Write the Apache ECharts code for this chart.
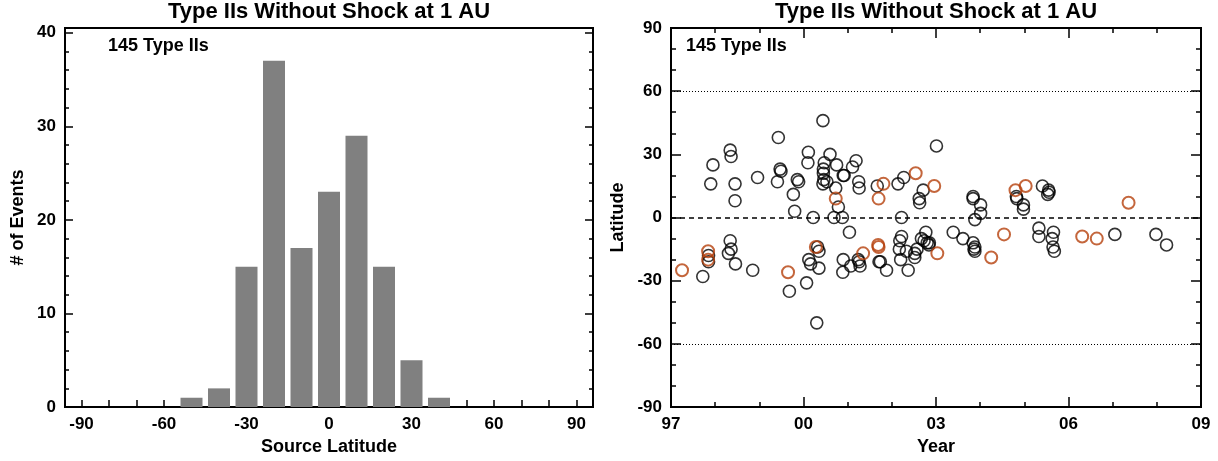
<!DOCTYPE html>
<html>
<head>
<meta charset="utf-8">
<script src="https://cdn.jsdelivr.net/npm/echarts@6/dist/echarts.min.js"></script>
<style>
  html, body { margin: 0; padding: 0; background: #fff; }
  #chart { width: 1218px; height: 461px; }
</style>
</head>
<body>
<div id="chart"></div>
<script>
// histogram of source latitude (10 deg bins)
const binCenters = [-50, -40, -30, -20, -10, 0, 10, 20, 30, 40];
const binCounts = [1, 2, 15, 37, 17, 23, 29, 15, 5, 1];

// [year, latitude] of type IIs without shock
const blackEvents = [
  [1997.72, -28], [1997.85, -18], [1997.85, -21], [1997.90, 16], [1997.95, 25],
  [1998.34, 32], [1998.36, 29], [1998.45, 16], [1998.45, 8], [1998.34, -11], [1998.36, -15], [1998.30, -17], [1998.46, -22],
  [1998.85, -25], [1998.96, 19],
  [1999.43, 38], [1999.47, 23], [1999.49, 22], [1999.41, 17], [1999.68, -35], [1999.77, 11], [1999.80, 3], [1999.86, 18], [1999.89, 17],
  [2000.11, 31], [2000.10, 26], [2000.22, 0], [2000.07, -31], [2000.12, -20], [2000.16, -22], [2000.30, -50], [2000.32, -14], [2000.35, -16], [2000.35, -24],
  [2000.44, 46], [2000.60, 30], [2000.47, 26], [2000.45, 23], [2000.45, 21], [2000.46, 18], [2000.44, 16], [2000.53, 17],
  [2000.75, 25], [2000.73, 14], [2000.79, 5], [2000.69, 0], [2000.88, 0], [2000.90, 20], [2000.92, 20],
  [2001.04, -7], [2000.90, -20], [2000.89, -26], [2001.07, -23],
  [2001.19, 27], [2001.11, 24], [2001.25, 17], [2001.26, 14], [2001.24, -20], [2001.28, -23], [2001.26, -21],
  [2001.67, 15], [2001.71, -21], [2001.74, -21], [2001.88, -25],
  [2002.14, 16], [2002.27, 19], [2002.22, 0], [2002.22, -9], [2002.18, -11], [2002.17, -15], [2002.20, -20], [2002.37, -25], [2002.33, -16],
  [2002.62, 9], [2002.63, 7], [2002.71, 13], [2002.57, -15], [2002.52, -17], [2002.52, -19], [2002.67, -10], [2002.73, -11],
  [2002.77, -7], [2002.80, -12], [2002.85, -12], [2002.84, -13],
  [2003.01, 34],
  [2003.39, -7], [2003.61, -10], [2003.84, -12], [2003.88, -14], [2003.86, -15], [2003.88, -16],
  [2003.84, 10], [2003.84, 9], [2004.01, 6], [2004.01, 2], [2003.88, -1],
  [2004.83, 9], [2004.82, 10], [2004.98, 6], [2004.98, 4],
  [2005.33, -5], [2005.33, -9], [2005.41, 15], [2005.56, 12], [2005.53, 11], [2005.55, 13],
  [2005.66, -7], [2005.63, -10], [2005.65, -14], [2005.68, -16],
  [2007.05, -8], [2007.98, -8], [2008.22, -13]
];
const orangeEvents = [
  [1997.25, -25], [1997.84, -16], [1997.84, -20], [1999.65, -26], [2000.28, -14], [2000.73, 9],
  [2001.35, -17], [2001.81, 16], [2001.70, 9], [2001.69, -13], [2001.70, -14],
  [2002.54, 21], [2002.96, 15], [2003.03, -17], [2004.25, -19], [2004.54, -8],
  [2004.80, 13], [2005.03, 15], [2006.31, -9], [2006.64, -10], [2007.36, 7]
];

// reference latitudes
const dottedLats = [60, -60];
const dashedLats = [0];

// tick labels / tick positions
const srcLatLabels = [-90, -60, -30, 0, 30, 60, 90];
const srcLatTicks = [-90, -80, -70, -60, -50, -40, -30, -20, -10, 0, 10, 20, 30, 40, 50, 60, 70, 80, 90];
const countLabels = [0, 10, 20, 30, 40];
const countMinor = [0, 2, 4, 6, 8, 10, 12, 14, 16, 18, 20, 22, 24, 26, 28, 30, 32, 34, 36, 38, 40];
const yearLabels = [1997, 2000, 2003, 2006, 2009];
const yearMinor = [1997, 1998, 1999, 2000, 2001, 2002, 2003, 2004, 2005, 2006, 2007, 2008, 2009];
const latLabels = [-90, -60, -30, 0, 30, 60, 90];
const latMinor = [-90, -80, -70, -60, -50, -40, -30, -20, -10, 0, 10, 20, 30, 40, 50, 60, 70, 80, 90];

const FONT = 'Liberation Sans, Arial, Helvetica, sans-serif';
const labelStyle = { color: '#000', fontFamily: FONT, fontWeight: 'bold', fontSize: 17, margin: 9 };
const nameStyle = { color: '#000', fontFamily: FONT, fontWeight: 'bold', fontSize: 18 };

// one value axis; several are stacked per side to get long/short ticks
function axis(gridIndex, position, min, max, ticks, tickLen, labels, extra) {
  return Object.assign({
    type: 'value',
    gridIndex,
    position,
    min,
    max,
    axisLine: { show: false, onZero: false },
    splitLine: { show: false },
    axisTick: {
      show: true,
      inside: true,
      length: tickLen,
      customValues: ticks,
      lineStyle: { color: '#000', width: 1.5 }
    },
    axisLabel: labels
      ? Object.assign({ show: true, customValues: labels }, labelStyle)
      : { show: false }
  }, extra || {});
}

const chart = echarts.init(document.getElementById('chart'));

const option = {
  animation: false,
  backgroundColor: '#fff',
  graphic: [
    { type: 'text', x: 329, y: 12, style: { text: 'Type IIs Without Shock at 1 AU', font: 'bold 22px ' + FONT, fill: '#000', textAlign: 'center', textVerticalAlign: 'middle' } },
    { type: 'text', x: 936, y: 12, style: { text: 'Type IIs Without Shock at 1 AU', font: 'bold 22px ' + FONT, fill: '#000', textAlign: 'center', textVerticalAlign: 'middle' } },
    { type: 'text', x: 108, y: 46, style: { text: '145 Type IIs', font: 'bold 18px ' + FONT, fill: '#000', textVerticalAlign: 'middle' } },
    { type: 'text', x: 686, y: 46, style: { text: '145 Type IIs', font: 'bold 18px ' + FONT, fill: '#000', textVerticalAlign: 'middle' } }
  ],
  grid: [
    { left: 65, top: 28, width: 528, height: 381, show: true, borderColor: '#000', borderWidth: 2, backgroundColor: 'transparent' },
    { left: 671, top: 28, width: 530, height: 381, show: true, borderColor: '#000', borderWidth: 2, backgroundColor: 'transparent' }
  ],
  xAxis: [
    axis(0, 'bottom', -96, 96, srcLatTicks, 7, srcLatLabels, {
      name: 'Source Latitude', nameLocation: 'middle', nameGap: 28, nameTextStyle: nameStyle
    }),
    axis(1, 'bottom', 1997, 2009, yearLabels, 10, yearLabels, {
      name: 'Year', nameLocation: 'middle', nameGap: 28, nameTextStyle: nameStyle,
      axisLabel: Object.assign({ show: true, customValues: yearLabels,
        formatter: (v) => String(Math.round(v) % 100).padStart(2, '0') }, labelStyle)
    }),
    axis(1, 'bottom', 1997, 2009, yearMinor, 5, null),
    axis(1, 'top', 1997, 2009, yearLabels, 10, null),
    axis(1, 'top', 1997, 2009, yearMinor, 5, null)
  ],
  yAxis: [
    axis(0, 'left', 0, 40.5, countLabels, 8, countLabels, {
      name: '# of Events', nameLocation: 'middle', nameGap: 38, nameTextStyle: nameStyle
    }),
    axis(0, 'left', 0, 40.5, countMinor, 4, null),
    axis(0, 'right', 0, 40.5, countLabels, 8, null),
    axis(0, 'right', 0, 40.5, countMinor, 4, null),
    axis(1, 'left', -90, 90, latLabels, 10, latLabels, {
      name: 'Latitude', nameLocation: 'middle', nameGap: 44, nameTextStyle: nameStyle
    }),
    axis(1, 'left', -90, 90, latMinor, 5, null),
    axis(1, 'right', -90, 90, latLabels, 10, null),
    axis(1, 'right', -90, 90, latMinor, 5, null)
  ],
  series: [
    {
      type: 'custom',
      xAxisIndex: 0,
      yAxisIndex: 0,
      encode: { x: 0, y: 1 },
      data: binCenters.map((c, i) => [c, binCounts[i]]),
      renderItem: (params, api) => {
        const top = api.coord([api.value(0), api.value(1)]);
        const base = api.coord([api.value(0), 0]);
        const w = api.size([8, 0])[0];
        return {
          type: 'rect',
          shape: { x: top[0] - w / 2, y: top[1], width: w, height: base[1] - top[1] },
          style: { fill: '#808080' }
        };
      }
    },
    {
      type: 'scatter',
      xAxisIndex: 1,
      yAxisIndex: 4,
      data: blackEvents,
      symbol: 'circle',
      symbolSize: 12,
      itemStyle: { color: 'rgba(0,0,0,0)', borderColor: '#000', borderWidth: 1.6 },
      markLine: {
        silent: true,
        symbol: 'none',
        label: { show: false },
        data: [
          ...dottedLats.map((v) => ({ yAxis: v, lineStyle: { type: [1, 2], color: '#000', width: 1 } })),
          ...dashedLats.map((v) => ({ yAxis: v, lineStyle: { type: [5, 4], color: '#000', width: 1.5 } }))
        ]
      }
    },
    {
      type: 'scatter',
      xAxisIndex: 1,
      yAxisIndex: 4,
      data: orangeEvents,
      symbol: 'circle',
      symbolSize: 12,
      itemStyle: { color: 'rgba(0,0,0,0)', borderColor: '#b5400b', borderWidth: 2 }
    }
  ]
};

chart.setOption(option);
</script>
</body>
</html>
